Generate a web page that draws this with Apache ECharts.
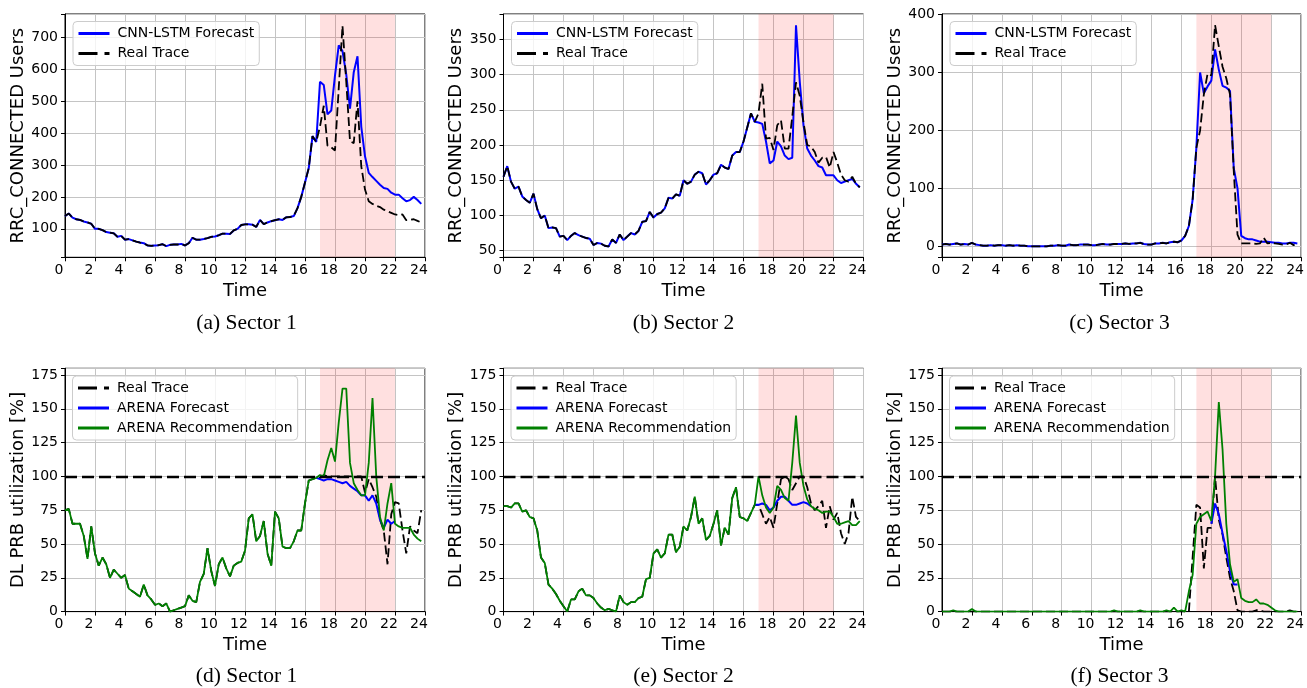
<!DOCTYPE html>
<html>
<head>
<meta charset="utf-8">
<script src="https://cdn.jsdelivr.net/npm/echarts@6/dist/echarts.min.js"></script>
<style>
  html, body { margin: 0; padding: 0; background: #fff; }
  #chart { width: 1307px; height: 688px; }
</style>
</head>
<body>
<div id="chart"></div>
<script>
// ---------------- DATA (15-minute samples, hour 0 .. 23.75) ----------------
const STEP_HOURS = 0.25;
const SPAN_START = 17, SPAN_END = 22;
const CAPACITY = 100;

// (a) Sector 1 – RRC_CONNECTED users
const A_REAL = [
  140,148,135,130, 128,123,120,116, 100,100,96,90, 88,86,75,78,
  66,68,64,60, 57,55,48,47, 48,49,52,46, 50,51,51,53,
  48,55,72,66, 66,68,71,75, 76,80,85,85, 84,95,100,112,
  114,114,113,106, 128,115,120,124, 127,130,128,136, 137,140,165,200,
  245,290,390,372, 420,485,360,355, 345,540,735,560, 374,368,500,296,
  223,186,178,172, 168,160,155,150, 145,143,145,127, 128,130,125,120
];
const A_FORECAST = [
  140,148,135,130, 128,123,120,116, 100,100,96,90, 88,86,75,78,
  66,68,64,60, 57,55,48,47, 48,49,52,46, 50,51,51,53,
  48,55,72,66, 66,68,71,75, 76,80,85,85, 84,95,100,112,
  114,114,113,106, 128,115,120,124, 127,130,128,136, 137,140,165,200,
  245,290,390,372, 560,550,458,470, 580,674,656,583, 476,590,640,420,
  327,275,262,250, 238,228,225,213, 207,207,196,186, 190,200,190,178
];
// (b) Sector 2
const B_REAL = [
  155,170,148,138, 141,127,122,118, 131,109,96,100, 82,83,82,70,
  71,65,71,75, 72,70,68,67, 58,61,60,57, 56,66,61,73,
  65,70,75,73, 78,91,92,105, 97,102,104,110, 125,124,130,128,
  150,145,148,158, 162,160,144,150, 158,160,172,168, 166,185,190,190,
  205,225,245,233, 245,287,209,210, 193,228,235,195, 195,240,289,270,
  232,200,198,190, 175,182,183,168, 190,175,158,150, 148,155,145,140
];
const B_FORECAST = [
  155,170,148,138, 141,127,122,118, 131,109,96,100, 82,83,82,70,
  71,65,71,75, 72,70,68,67, 58,61,60,57, 56,66,61,73,
  65,70,75,73, 78,91,92,105, 97,102,104,110, 125,124,130,128,
  150,145,148,158, 162,160,144,150, 158,160,172,168, 166,185,190,190,
  205,225,245,233, 232,230,205,174, 178,205,198,185, 180,182,370,290,
  228,195,185,178, 170,168,157,157, 157,150,146,148, 150,152,145,140
];
// (c) Sector 3
const C_REAL = [
  3,4,3,4, 5,3,4,3, 6,3,2,1, 1,2,1,2,
  2,1,2,1, 2,1,1,0, 0,0,0,0, 0,1,1,2,
  1,1,3,2, 2,3,3,3, 2,2,3,4, 3,3,4,4,
  4,5,4,5, 5,6,4,3, 3,5,5,6, 5,7,8,7,
  10,18,35,80, 170,200,262,298, 295,382,345,310, 290,262,130,20,
  5,5,5,5, 4,5,15,5, 6,5,4,3, 3,6,2,5
];
const C_FORECAST = [
  3,4,3,4, 5,3,4,3, 6,3,2,1, 1,2,1,2,
  2,1,2,1, 2,1,1,0, 0,0,0,0, 0,1,1,2,
  1,1,3,2, 2,3,3,3, 2,2,3,4, 3,3,4,4,
  4,5,4,5, 5,6,4,3, 3,5,5,6, 5,7,8,7,
  10,18,35,80, 170,300,264,276, 286,340,305,277, 274,268,135,100,
  18,14,12,12, 10,8,8,8, 7,6,6,5, 5,6,6,5
];

// (d) Sector 1 – DL PRB utilization [%]
const D_REAL = [
  75,76,65,65, 65,56,39,63, 43,34,40,35, 25,31,28,25,
  27,17,15,13, 11,20,12,9, 5,6,4,6, 0,1,2,3,
  4,12,8,7, 22,28,47,30, 19,35,40,32, 26,34,36,37,
  45,69,72,52, 56,67,43,34, 74,69,48,47, 47,52,60,60,
  80,97,98,99, 99,101,100,100, 100,100,100,100, 100,100,100,100,
  88,98,92,85, 68,60,35,72, 81,80,60,43, 63,60,58,75
];
const D_REC = [
  75,76,65,65, 65,56,39,63, 43,34,40,35, 25,31,28,25,
  27,17,15,13, 11,20,12,9, 5,6,4,6, 0,1,2,3,
  4,12,8,7, 22,28,47,30, 19,35,40,32, 26,34,36,37,
  45,69,72,52, 56,67,43,34, 74,69,48,47, 47,52,60,60,
  80,97,98,99, 101,100,112,121, 111,140,165,165, 110,95,90,86,
  86,110,158,100, 70,60,80,95, 65,63,62,62, 62,57,54,52
];
const D_FORECAST_START = 16.75;
const D_FORECAST = [99, 98,97,98,98, 97,96,95,96, 93,91,89,86, 86,82,86,80, 68,62,68,65, 67];

// (e) Sector 2
const E_REAL = [
  78,78,77,80, 80,74,75,70, 69,60,40,36, 20,17,13,8,
  4,0,9,9, 15,17,12,12, 10,6,3,1, 2,1,0,12,
  7,5,7,7, 10,11,24,25, 43,46,40,43, 57,57,44,48,
  63,60,70,85, 65,69,53,56, 65,75,49,62, 57,84,92,70,
  69,67,73,79, 79,72,65,70, 62,80,98,100, 98,90,95,100,
  100,92,80,75, 78,82,62,78, 68,73,58,50, 58,85,70,67
];
const E_REC = [
  78,78,77,80, 80,74,75,70, 69,60,40,36, 20,17,13,8,
  4,0,9,9, 15,17,12,12, 10,6,3,1, 2,1,0,12,
  7,5,7,7, 10,11,24,25, 43,46,40,43, 57,57,44,48,
  63,60,70,85, 65,69,53,56, 65,75,49,62, 57,84,92,70,
  69,67,73,79, 100,86,77,73, 77,93,90,84, 82,110,145,110,
  93,83,78,76, 75,73,74,74, 70,65,65,66, 67,64,64,67
];
const E_FORECAST_START = 16.75;
const E_FORECAST = [79, 79,80,79,75, 77,82,85,85, 82,79,79,80, 81,80,78];

// (f) Sector 3
const F_REAL = [
  0,0,0,0, 0,0,0,0, 0,0,0,0, 0,0,0,0,
  0,0,0,0, 0,0,0,0, 0,0,0,0, 0,0,0,0,
  0,0,0,0, 0,0,0,0, 0,0,0,0, 0,0,0,0,
  0,0,0,0, 0,0,0,0, 0,0,0,0, 0,0,0,0,
  0,0,0,40, 79,77,32,62, 62,100,68,57, 40,25,15,1,
  0,0,0,0, 1,1,0,0, 0,0,0,0, 0,1,0,0
];
const F_REC = [
  0,0,0,1, 0,0,0,0, 2,0,0,0, 0,0,0,0,
  0,0,0,0, 0,0,0,0, 0,0,0,0, 0,0,0,0,
  0,0,0,0, 0,0,0,0, 0,0,0,0, 0,0,1,0,
  0,0,0,0, 0,1,0,0, 0,0,0,0, 1,0,3,0,
  1,0,15,27, 65,70,72,74, 67,100,155,120, 65,35,22,24,
  10,8,7,7, 9,6,6,5, 3,1,0,0, 0,0,0,0
];
const F_FORECAST_START = 18.0;
const F_FORECAST = [65, 80,72,58,45, 30,20,20];

const CAPTIONS = ['(a) Sector 1', '(b) Sector 2', '(c) Sector 3',
                  '(d) Sector 1', '(e) Sector 2', '(f) Sector 3'];
const Y_NAMES = ['RRC_CONNECTED Users', 'DL PRB utilization [%]'];
const Y_RANGES = [[11, 772, 100], [40.6, 386, 50], [-19, 401, 100],
                  [0, 180, 25], [0, 180, 25], [0, 180, 25]];

// ---------------- LAYOUT ----------------
const FONT = 'DejaVu Sans';
const GRID_LEFTS = [65, 503.5, 942];
const GRID_TOPS = [14, 368.3];
const GW = 360, GH = 243.3;
const CAPTION_X = [246.5, 683.5, 1119.5];
const CAPTION_Y = [323, 676];

function pairs(arr, start) {
  const s = start || 0;
  return arr.map((v, i) => [s + i * STEP_HOURS, v]);
}

const grids = [], xAxes = [], yAxes = [], series = [], legends = [], graphics = [];

for (let k = 0; k < 6; k++) {
  const row = k < 3 ? 0 : 1, col = k % 3;
  const left = GRID_LEFTS[col], top = GRID_TOPS[row];
  grids.push({ left: left, top: top, width: GW, height: GH, show: true,
    borderColor: '#000', borderWidth: 1, backgroundColor: 'transparent', containLabel: false });
  xAxes.push({
    gridIndex: k, type: 'value', min: 0, max: 24, interval: 2,
    name: 'Time', nameLocation: 'middle', nameGap: 25,
    nameTextStyle: { fontFamily: FONT, fontSize: 18, color: '#000' },
    axisLine: { show: true, onZero: false, lineStyle: { color: '#000', width: 1 } },
    axisTick: { show: true, length: 4, lineStyle: { color: '#000', width: 1 } },
    axisLabel: { fontFamily: FONT, fontSize: 14, color: '#000', margin: 6, padding: [0, 12, 0, 0] },
    splitLine: { show: true, lineStyle: { color: '#c4c4c4', width: 1 } }
  });
  const yr = Y_RANGES[k];
  yAxes.push({
    gridIndex: k, type: 'value', min: yr[0], max: yr[1],
    minInterval: yr[2], maxInterval: yr[2],
    name: Y_NAMES[row], nameLocation: 'middle', nameGap: 38,
    nameTextStyle: { fontFamily: FONT, fontSize: 18, color: '#000' },
    axisLine: { show: true, onZero: false, lineStyle: { color: '#000', width: 1 } },
    axisTick: { show: true, length: 4, lineStyle: { color: '#000', width: 1 } },
    axisLabel: { fontFamily: FONT, fontSize: 14, color: '#000', margin: 7,
      formatter: (v) => (Math.abs(v / yr[2] - Math.round(v / yr[2])) < 1e-6 ? String(Math.round(v)) : '') },
    splitLine: { show: true, lineStyle: { color: '#c4c4c4', width: 1 } }
  });
  graphics.push({
    type: 'text', x: CAPTION_X[col], y: CAPTION_Y[row],
    style: { text: CAPTIONS[k], font: '21.5px "Liberation Serif"', fill: '#000',
      textAlign: 'center', textVerticalAlign: 'middle' }
  });
}

const spanArea = {
  silent: true,
  itemStyle: { color: 'rgba(255,0,0,0.12)' },
  data: [[{ xAxis: SPAN_START }, { xAxis: SPAN_END }]]
};
const capLine = {
  silent: true, symbol: ['none', 'none'],
  label: { show: false },
  lineStyle: { color: '#000', type: [12, 5], width: 2.3 },
  data: [{ yAxis: CAPACITY }]
};

function lineSeries(name, k, data, color, dashed, width, extra) {
  return Object.assign({
    name: name, type: 'line', xAxisIndex: k, yAxisIndex: k,
    data: data, showSymbol: false, symbol: 'none', animation: false,
    lineStyle: { color: color, width: width, type: dashed ? [9, 4] : 'solid' },
    itemStyle: { color: color }
  }, extra || {});
}

function legendBox(names, left, top) {
  return {
    data: names.map((n) => n === 'Real Trace'
      ? { name: n, lineStyle: { type: [19, 7], width: 3 } }
      : { name: n, lineStyle: { width: 3 } }),
    left: left, top: top, orient: 'vertical',
    itemWidth: 31, itemHeight: 14, itemGap: 6,
    padding: [5, 5, 5, 4],
    backgroundColor: 'rgba(255,255,255,0.8)', borderColor: '#cccccc', borderWidth: 1, borderRadius: 4,
    itemStyle: { color: 'rgba(0,0,0,0)', borderColor: 'rgba(0,0,0,0)', borderWidth: 0 },
    textStyle: { fontFamily: FONT, fontSize: 14, color: '#000', padding: [0, 0, 0, 3] },
    selectedMode: false
  };
}

const topSets = [[A_REAL, A_FORECAST], [B_REAL, B_FORECAST], [C_REAL, C_FORECAST]];
topSets.forEach((s, k) => {
  series.push(lineSeries('CNN-LSTM Forecast', k, pairs(s[1]), '#0000ff', false, 2, { markArea: spanArea, z: 2 }));
  series.push(lineSeries('Real Trace', k, pairs(s[0]), '#000000', true, 1.8, { z: 3 }));
  legends.push(legendBox(['CNN-LSTM Forecast', 'Real Trace'], GRID_LEFTS[k] + 8, 21.5));
});

const botSets = [
  [D_REAL, D_FORECAST, D_FORECAST_START, D_REC],
  [E_REAL, E_FORECAST, E_FORECAST_START, E_REC],
  [F_REAL, F_FORECAST, F_FORECAST_START, F_REC]
];
botSets.forEach((s, j) => {
  const k = j + 3;
  series.push(lineSeries('Real Trace', k, pairs(s[0]), '#000000', true, 1.8, { markArea: spanArea, z: 2 }));
  series.push(lineSeries('ARENA Forecast', k, pairs(s[1], s[2]), '#0000ff', false, 2, { z: 3 }));
  series.push(lineSeries('ARENA Recommendation', k, pairs(s[3]), '#008000', false, 1.8, { markLine: capLine, z: 4 }));
  legends.push(legendBox(['Real Trace', 'ARENA Forecast', 'ARENA Recommendation'], GRID_LEFTS[j] + 7.5, 376));
});

const chart = echarts.init(document.getElementById('chart'), null, { renderer: 'canvas' });
chart.setOption({
  animation: false,
  backgroundColor: '#ffffff',
  grid: grids, xAxis: xAxes, yAxis: yAxes,
  legend: legends, series: series, graphic: graphics
});
</script>
</body>
</html>
